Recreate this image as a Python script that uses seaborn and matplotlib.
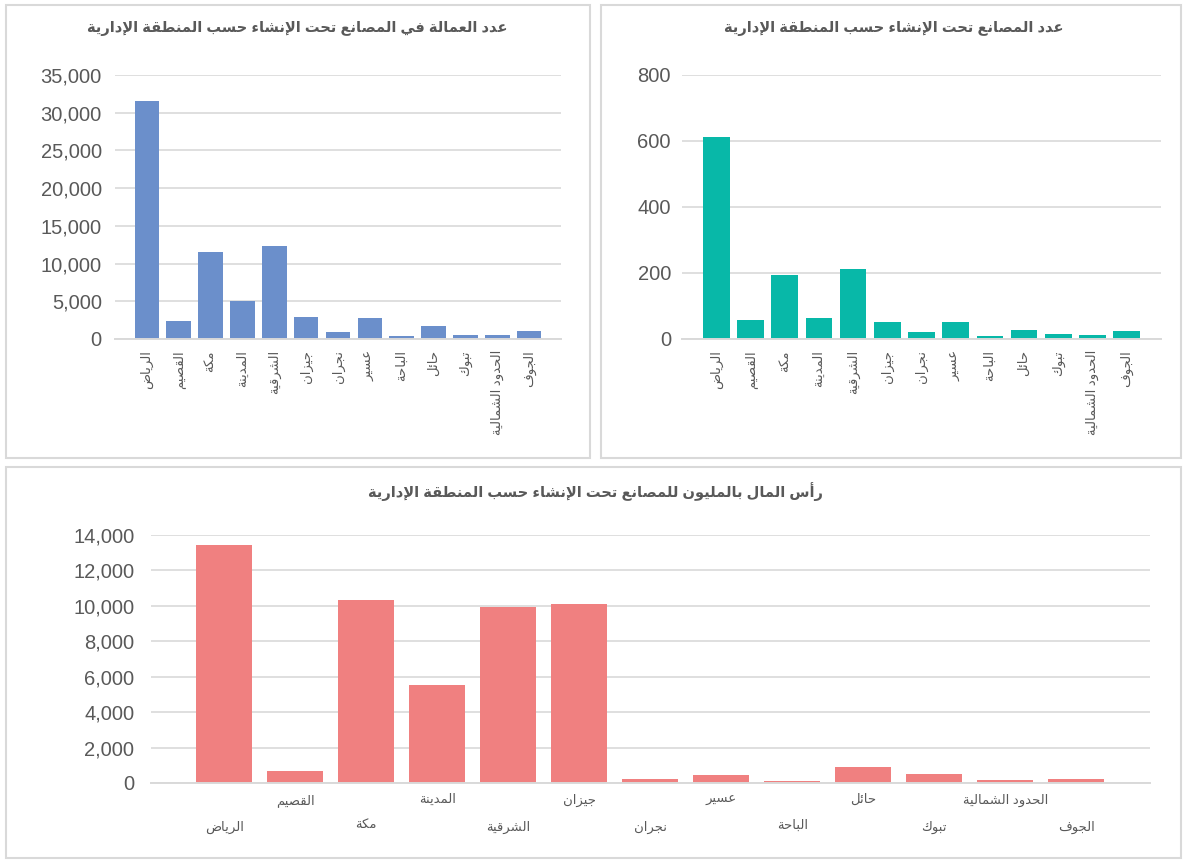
import matplotlib
matplotlib.use("Agg")
import matplotlib.pyplot as plt
from matplotlib.patches import Rectangle
from matplotlib.ticker import FuncFormatter, MultipleLocator
import seaborn as sns

# ---------------- data ----------------
regions = ["الرياض", "القصيم", "مكة", "المدينة", "الشرقية", "جيزان", "نجران",
           "عسير", "الباحة", "حائل", "تبوك", "الحدود الشمالية", "الجوف"]
workers = [31600, 2400, 11500, 5100, 12300, 2900, 900, 2750, 400, 1700, 550, 500, 1000]
factories = [612, 57, 194, 63, 212, 52, 22, 51, 8, 27, 15, 12, 25]
capital = [13450, 700, 10350, 5530, 9950, 10100, 250, 470, 120, 900, 500, 150, 210]

title_workers = "عدد العمالة في المصانع تحت الإنشاء حسب المنطقة الإدارية"
title_factories = "عدد المصانع تحت الإنشاء حسب المنطقة الإدارية"
title_capital = "رأس المال بالمليون للمصانع تحت الإنشاء حسب المنطقة الإدارية"

# ---------------- minimal Arabic shaping (presentation forms + RTL) ----------------
_counts_a = [1, 2, 2, 2, 2, 4, 2, 4, 2, 4, 4, 4, 4, 4, 2, 2, 2, 2, 4, 4, 4, 4, 4, 4, 4, 4]
_counts_b = [4, 4, 4, 4, 4, 4, 4, 2, 2, 4]
FORMS = {}
_p = 0xFE80
for k, n in enumerate(_counts_a):
    c = chr(0x0621 + k)
    f = [chr(_p + j) for j in range(n)] + [None] * (4 - n)
    FORMS[c] = tuple(f)
    _p += n
for k, n in enumerate(_counts_b):
    c = chr(0x0641 + k)
    f = [chr(_p + j) for j in range(n)] + [None] * (4 - n)
    FORMS[c] = tuple(f)
    _p += n
LAMALEF = {"\u0622": 0xFEF5, "\u0623": 0xFEF7, "\u0625": 0xFEF9, "\u0627": 0xFEFB}
for a, base in LAMALEF.items():
    FORMS["\u0644" + a] = (chr(base), chr(base + 1), None, None)


def _shape_line(s):
    toks = []
    i = 0
    while i < len(s):
        if s[i] == "\u0644" and i + 1 < len(s) and s[i + 1] in LAMALEF:
            toks.append(s[i:i + 2])
            i += 2
        else:
            toks.append(s[i])
            i += 1
    out = []
    for i, t in enumerate(toks):
        f = FORMS.get(t)
        if f is None:
            out.append(t)
            continue
        prev = FORMS.get(toks[i - 1]) if i > 0 else None
        nxt = FORMS.get(toks[i + 1]) if i + 1 < len(toks) else None
        cp = prev is not None and prev[2] is not None and f[1] is not None
        cn = nxt is not None and f[2] is not None and nxt[1] is not None
        if cp and cn and f[3]:
            out.append(f[3])
        elif cp:
            out.append(f[1])
        elif cn:
            out.append(f[2])
        else:
            out.append(f[0])
    return "".join(reversed(out))


def ar(text):
    return "\n".join(_shape_line(l) for l in text.split("\n"))


# ---------------- style ----------------
sns.set_theme(style="white")
plt.rcParams["font.family"] = ["Liberation Sans", "DejaVu Sans"]
TXT = "#595959"
GRID = "#D9D9D9"

W, H = 1186, 860
fig = plt.figure(figsize=(W / 100, H / 100), dpi=100)
fig.patch.set_facecolor("white")


def fax(x0, y0, x1, y1):
    return fig.add_axes([x0 / W, 1 - y1 / H, (x1 - x0) / W, (y1 - y0) / H])


def panel(x0, y0, x1, y1):
    fig.patches.append(Rectangle((x0 / W, 1 - y1 / H), (x1 - x0) / W, (y1 - y0) / H,
                                 transform=fig.transFigure, fill=False,
                                 edgecolor=GRID, linewidth=1.5))


panel(6, 5, 590, 458)
panel(601, 5, 1181, 458)
panel(6, 467, 1181, 858)

thousands = FuncFormatter(lambda v, p: f"{int(v):,}")


def style_ax(ax, ymax, step, fmt, ypad):
    ax.set_ylim(0, ymax)
    ax.yaxis.set_major_locator(MultipleLocator(step))
    if fmt:
        ax.yaxis.set_major_formatter(fmt)
    ax.grid(axis="y", color=GRID, linewidth=1.2)
    ax.set_axisbelow(True)
    for s in ["top", "right", "left"]:
        ax.spines[s].set_visible(False)
    ax.spines["bottom"].set_color(GRID)
    ax.spines["bottom"].set_linewidth(1.4)
    ax.tick_params(axis="y", length=0, pad=ypad, labelsize=14.5, labelcolor=TXT)
    ax.tick_params(axis="x", length=0, labelcolor=TXT)
    ax.set_xlabel("")
    ax.set_ylabel("")


labels_shaped = [ar(r) for r in regions]

# ---- top-left: workers ----
ax1 = fax(115, 75, 561, 339)
sns.barplot(x=labels_shaped, y=workers, color="#6B8FCB", saturation=1, width=0.77,
            linewidth=0, ax=ax1)
style_ax(ax1, 35000, 5000, thousands, 9.5)
ax1.set_xlim(-1.0, 13.0)
ax1.set_xticks(range(len(regions)))
ax1.set_xticklabels(labels_shaped, rotation=90, ha="center", va="top", fontsize=9.5)
ax1.tick_params(axis="x", pad=8)
fig.text(297 / W, 1 - 28 / H, ar(title_workers), ha="center", va="center",
         fontsize=10.5, fontweight="bold", color=TXT)

# ---- top-right: factories ----
ax2 = fax(682, 75, 1161, 339)
sns.barplot(x=labels_shaped, y=factories, color="#08B8A8", saturation=1, width=0.78,
            linewidth=0, ax=ax2)
style_ax(ax2, 800, 200, None, 8)
ax2.set_xlim(-1.0, 13.0)
ax2.set_xticks(range(len(regions)))
ax2.set_xticklabels(labels_shaped, rotation=90, ha="center", va="top", fontsize=9.5)
ax2.tick_params(axis="x", pad=8)
fig.text(894 / W, 1 - 28 / H, ar(title_factories), ha="center", va="center",
         fontsize=10.5, fontweight="bold", color=TXT)

# ---- bottom: capital ----
ax3 = fax(151, 535, 1150, 783)
sns.barplot(x=labels_shaped, y=capital, color="#F08080", saturation=1, width=0.79,
            linewidth=0, ax=ax3)
style_ax(ax3, 14000, 2000, thousands, 12)
ax3.set_xlim(-1.03, 13.04)
ax3.set_xticks(range(len(regions)))
stag = [("\n" + l) if i % 2 == 0 else l for i, l in enumerate(labels_shaped)]
ax3.set_xticklabels(stag, rotation=0, ha="center", va="top", fontsize=9.5, linespacing=2.45)
ax3.tick_params(axis="x", pad=8)
fig.text(595 / W, 1 - 492 / H, ar(title_capital), ha="center", va="center",
         fontsize=10.5, fontweight="bold", color=TXT)

fig.savefig("out.png", dpi=100, facecolor="white")
